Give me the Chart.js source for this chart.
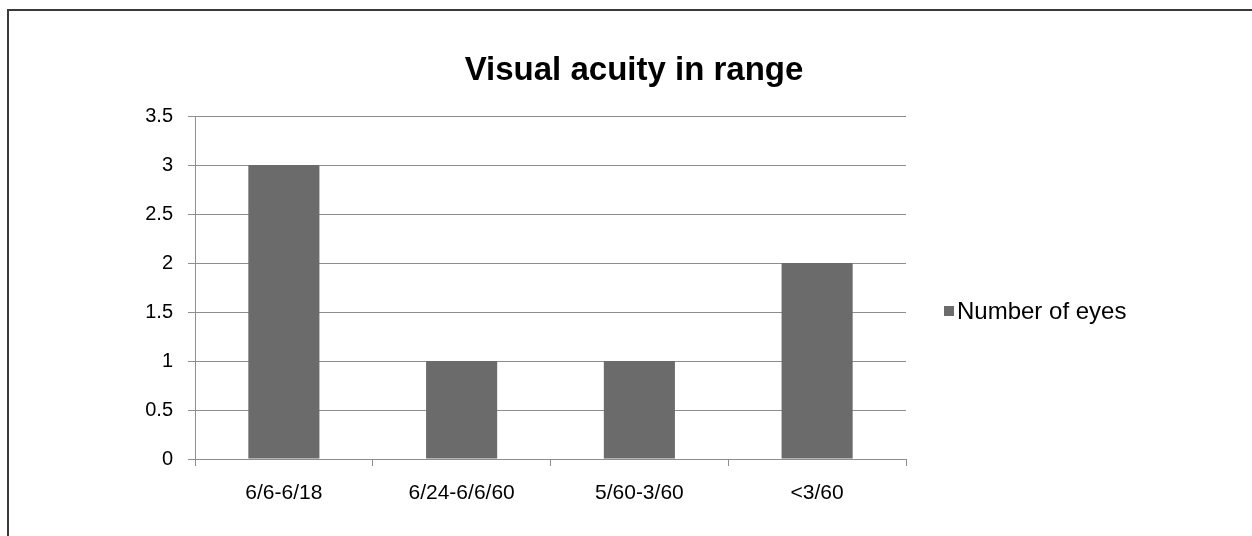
<!DOCTYPE html>
<html>
<head>
<meta charset="utf-8">
<script src="https://cdn.jsdelivr.net/npm/chart.js@4/dist/chart.umd.min.js"></script>
<style>
  html, body { margin: 0; padding: 0; background: #ffffff; }
  #frame {
    position: absolute; left: 7px; top: 9px; width: 1245px; height: 527px;
    border-top: 2px solid #3a3a3a; border-left: 2px solid #3a3a3a;
  }
  #c { position: absolute; left: 0; top: 0; }
</style>
</head>
<body>
<div id="frame"></div>
<canvas id="c" width="1252" height="536"></canvas>
<script>
// Visual acuity ranges and how many eyes fall in each
const categories = ['6/6-6/18', '6/24-6/6/60', '5/60-3/60', '<3/60'];
const eyeCounts = [3, 1, 1, 2];
const seriesName = 'Number of eyes';
const yTicks = [0, 0.5, 1, 1.5, 2, 2.5, 3, 3.5];
const yTickLabels = ['0', '0.5', '1', '1.5', '2', '2.5', '3', '3.5'];
const titleText = 'Visual acuity in range';

const FONT = '"Liberation Sans", Arial, sans-serif';
const BAR_COLOR = '#6b6b6b';
const GRID_COLOR = '#8e8e8e';

// Legend drawn to the right of the plot area, one square swatch plus label
const sideLegend = {
  id: 'sideLegend',
  afterDraw(chart) {
    const { ctx, chartArea } = chart;
    const ds = chart.data.datasets[0];
    const x = chartArea.right + 38;
    const y = chartArea.top + 195;
    ctx.save();
    ctx.fillStyle = ds.backgroundColor;
    ctx.fillRect(x, y - 5, 10, 10);
    ctx.fillStyle = '#000000';
    ctx.font = '24px ' + FONT;
    ctx.textBaseline = 'middle';
    ctx.textAlign = 'left';
    ctx.fillText(ds.label, x + 13, y + 1);
    ctx.restore();
  }
};

new Chart(document.getElementById('c'), {
  type: 'bar',
  data: {
    labels: categories,
    datasets: [{
      label: seriesName,
      data: eyeCounts,
      backgroundColor: BAR_COLOR,
      borderWidth: 0,
      categoryPercentage: 1,
      barPercentage: 0.4,
      yAxisID: 'y'
    }]
  },
  options: {
    responsive: false,
    animation: false,
    layout: { padding: { left: 16, right: 0, top: 0, bottom: 0 } },
    plugins: {
      legend: { display: false },
      tooltip: { enabled: false },
      title: {
        display: true,
        text: titleText,
        color: '#000000',
        font: { family: FONT, size: 33, weight: 'bold', lineHeight: 1.2 },
        padding: { top: 51, bottom: 25.4 }
      }
    },
    scales: {
      x: {
        grid: {
          display: true,
          drawOnChartArea: false,
          drawTicks: true,
          tickLength: 7,
          color: GRID_COLOR,
          offset: true
        },
        border: { display: true, color: GRID_COLOR },
        ticks: {
          color: '#000000',
          font: { family: FONT, size: 21 },
          padding: 15,
          maxRotation: 0
        },
        afterFit(scale) { scale.height = 77; }
      },
      y: {
        position: 'left',
        min: 0,
        max: 3.5,
        afterBuildTicks(scale) { scale.ticks = yTicks.map(v => ({ value: v })); },
        grid: { color: GRID_COLOR, tickLength: 7, drawTicks: true },
        border: { display: true, color: GRID_COLOR },
        ticks: {
          color: '#000000',
          font: { family: FONT, size: 20 },
          padding: 15,
          callback: (value, index) => yTickLabels[index]
        },
        afterFit(scale) { scale.width = 179; }
      },
      side: {
        position: 'right',
        display: true,
        grid: { display: false },
        border: { display: false },
        ticks: { display: false },
        afterFit(scale) { scale.width = 346; }
      }
    }
  },
  plugins: [sideLegend]
});
</script>
</body>
</html>
